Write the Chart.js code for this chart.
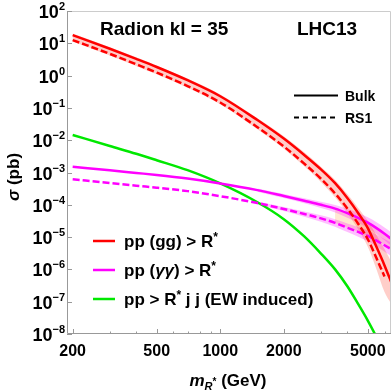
<!DOCTYPE html>
<html>
<head>
<meta charset="utf-8">
<script src="https://cdn.jsdelivr.net/npm/chart.js@4.4.1/dist/chart.umd.min.js"></script>
<style>
    body { margin: 0; background: #fff; }
</style>
</head>
<body>
<canvas id="radion" width="392" height="392"></canvas>
<script>
// resonance mass (GeV) and cross sections (pb)
var MASS = [200, 300, 400, 500, 700, 1000, 1500, 2000, 2500, 3000, 3500, 4000, 4500, 5000, 5500, 6000, 6500];

var GG_BULK = [18, 6.8, 3.3, 1.85, 0.72, 0.23, 0.042, 0.0112, 0.00348, 0.00125, 4.67e-4, 1.63e-4, 5.6e-5, 1.9e-5, 4.9e-6, 1.33e-6, 3.6e-7];
var GG_RS1 = [12.6, 4.7, 2.24, 1.24, 0.475, 0.147, 0.0252, 0.0064, 0.00188, 6.4e-4, 2.24e-4, 7.7e-5, 2.6e-5, 8.6e-6, 2.2e-6, 6.0e-7];
var GG_BAND_HI = [20, 7.6, 3.7, 2.07, 0.81, 0.26, 0.048, 0.0132, 0.0042, 0.00152, 5.9e-4, 2.15e-4, 8.0e-5, 3.2e-5, 1.15e-5, 4.3e-6, 1.6e-6];
var GG_BAND_LO = [11.3, 4.2, 2.0, 1.1, 0.42, 0.129, 0.0217, 0.0054, 0.00155, 5.1e-4, 1.7e-4, 5.5e-5, 1.75e-5, 5.0e-6, 1.0e-6, 2.0e-7, 8e-8];

var AA_BULK = [1.5e-3, 1.17e-3, 9.7e-4, 8.4e-4, 6.5e-4, 4.6e-4, 2.85e-4, 1.87e-4, 1.33e-4, 1.0e-4, 7.6e-5, 5.5e-5, 3.95e-5, 2.8e-5, 1.9e-5, 1.27e-5, 8.4e-6];
var AA_RS1 = [6.2e-4, 4.75e-4, 3.9e-4, 3.4e-4, 2.65e-4, 1.85e-4, 1.13e-4, 7.4e-5, 5.2e-5, 3.8e-5, 2.75e-5, 1.95e-5, 1.45e-5, 1.1e-5, 7.8e-6, 5.6e-6, 4.1e-6];

var AA_BAND_MASS = [1500, 2000, 2500, 3000, 3500, 4000, 4500, 5000, 5500, 6000, 6500];
var AA_BULK_HI = [3.2e-4, 2.17e-4, 1.6e-4, 1.25e-4, 9.9e-5, 7.5e-5, 5.6e-5, 4.1e-5, 2.9e-5, 2.0e-5, 1.36e-5];
var AA_BULK_LO = [2.54e-4, 1.61e-4, 1.11e-4, 8.0e-5, 5.8e-5, 4.0e-5, 2.8e-5, 1.9e-5, 1.24e-5, 8.0e-6, 5.2e-6];
var AA_RS1_HI = [1.27e-4, 8.6e-5, 6.2e-5, 4.75e-5, 3.6e-5, 2.65e-5, 2.06e-5, 1.63e-5, 1.19e-5, 8.8e-6, 6.6e-6];
var AA_RS1_LO = [1.0e-4, 6.4e-5, 4.3e-5, 3.0e-5, 2.1e-5, 1.43e-5, 1.02e-5, 7.4e-6, 5.1e-6, 3.5e-6, 2.5e-6];

var EW_MASS = [200, 300, 400, 500, 700, 1000, 1500, 2000, 2500, 3000, 3500, 4000, 4500, 5000, 5500, 5700];
var EW = [0.0145, 6.6e-3, 3.8e-3, 2.4e-3, 1.18e-3, 4.6e-4, 1.2e-4, 3.6e-5, 1.05e-5, 3.1e-6, 1.0e-6, 3.0e-7, 8.5e-8, 2.6e-8, 8e-9, 5e-9];

var X_MAJOR = [200, 500, 1000, 2000, 5000];
var X_MINOR = [300, 400, 600, 700, 800, 900, 3000, 4000, 6000];
var Y_EXP = [2, 1, 0, -1, -2, -3, -4, -5, -6, -7, -8];

var RED = "#ff0000";
var MAGENTA = "#ff00ff";
var GREEN = "#00e800";
var FONT = '"Liberation Sans", Arial, sans-serif';

function pts(xs, ys) {
    return ys.map(function (v, i) { return { x: xs[i], y: v }; });
}

function line(data, color, dash, order) {
    return {
        data: data, borderColor: color, borderWidth: 2.5, borderDash: dash,
        pointRadius: 0, cubicInterpolationMode: "monotone", fill: false, clip: 0, order: order,
    };
}

function band(data, fill, color, order) {
    return {
        data: data, borderColor: "transparent", borderWidth: 0, backgroundColor: color,
        pointRadius: 0, cubicInterpolationMode: "monotone", fill: fill, clip: 0, order: order,
    };
}

// draw a run of text pieces: [text, font, dy]
function rich(ctx, parts, x, y, align) {
    var w = 0;
    parts.forEach(function (p) { ctx.font = p[1]; w += ctx.measureText(p[0]).width; });
    var cx = align == "right" ? x - w : (align == "center" ? x - w / 2 : x);
    parts.forEach(function (p) {
        ctx.font = p[1];
        ctx.fillText(p[0], cx, y + (p[2] || 0));
        cx += ctx.measureText(p[0]).width;
    });
}

var decor = {
    id: "decor",
    afterDraw: function (chart) {
        var ctx = chart.ctx, a = chart.chartArea;
        var sx = chart.scales.x, sy = chart.scales.y;
        var B16 = "bold 16px " + FONT, B17 = "bold 17px " + FONT;
        ctx.save();
        ctx.lineWidth = 1;
        ctx.strokeStyle = "#cccccc";
        ctx.beginPath();
        ctx.moveTo(a.left, a.top + 0.5);
        ctx.lineTo(a.right - 0.5, a.top + 0.5);
        ctx.lineTo(a.right - 0.5, a.bottom);
        ctx.stroke();
        ctx.strokeStyle = "#999999";
        ctx.beginPath();
        ctx.moveTo(a.left + 0.5, a.top);
        ctx.lineTo(a.left + 0.5, a.bottom - 0.5);
        ctx.lineTo(a.right, a.bottom - 0.5);
        ctx.stroke();

        // ticks, pointing inward
        ctx.beginPath();
        X_MAJOR.forEach(function (m) {
            var px = Math.round(sx.getPixelForValue(m)) + 0.5;
            ctx.moveTo(px, a.bottom); ctx.lineTo(px, a.bottom - 5);
        });
        X_MINOR.forEach(function (m) {
            var px = Math.round(sx.getPixelForValue(m)) + 0.5;
            ctx.moveTo(px, a.bottom); ctx.lineTo(px, a.bottom - 2.5);
        });
        Y_EXP.forEach(function (e) {
            var py = Math.round(sy.getPixelForValue(Math.pow(10, e))) + 0.5;
            ctx.moveTo(a.left, py); ctx.lineTo(a.left + 5, py);
        });
        ctx.stroke();

        ctx.fillStyle = "#000";
        ctx.textBaseline = "alphabetic";
        X_MAJOR.forEach(function (m) {
            rich(ctx, [[String(m), B16]], sx.getPixelForValue(m), 356, "center");
        });
        Y_EXP.forEach(function (e) {
            var py = sy.getPixelForValue(Math.pow(10, e));
            var ex = e < 0 ? "\u2212" + (-e) : String(e);
            rich(ctx, [["10", "bold 18px " + FONT, 0], [ex, "bold 11px " + FONT, -8]], 65, py + 7, "right");
        });

        // axis titles
        rich(ctx, [["m", "italic bold 17px " + FONT], ["R", "italic bold 11px " + FONT, 4], ["*", "bold 10px " + FONT, -1], [" (GeV)", B17]], 228, 386, "center");
        ctx.save();
        ctx.translate(19, 177);
        ctx.rotate(-Math.PI / 2);
        rich(ctx, [["\u03c3", "italic bold 17px " + FONT], [" (pb)", B17]], 0, 0, "center");
        ctx.restore();

        // headings
        rich(ctx, [["Radion kl = 35", "bold 19px " + FONT]], 100, 35, "left");
        rich(ctx, [["LHC13", "bold 19px " + FONT]], 297, 35, "left");

        // style key
        ctx.strokeStyle = "#000";
        ctx.lineWidth = 2;
        ctx.beginPath(); ctx.moveTo(294, 95.5); ctx.lineTo(338, 95.5); ctx.stroke();
        ctx.setLineDash([5, 4]);
        ctx.beginPath(); ctx.moveTo(294, 117.5); ctx.lineTo(338, 117.5); ctx.stroke();
        ctx.setLineDash([]);
        rich(ctx, [["Bulk", "bold 14px " + FONT]], 345, 100.5, "left");
        rich(ctx, [["RS1", "bold 14px " + FONT]], 345, 122.5, "left");

        // process key
        var rows = [
            [RED, 241, [["pp (gg) > R", B17], ["*", "bold 12px " + FONT, -6]]],
            [MAGENTA, 270, [["pp (", B17], ["\u03b3\u03b3", "italic bold 17px " + FONT], [") > R", B17], ["*", "bold 12px " + FONT, -6]]],
            [GREEN, 299, [["pp > R", B17], ["*", "bold 12px " + FONT, -6], [" j j (EW induced)", B17]]],
        ];
        ctx.lineWidth = 2.5;
        rows.forEach(function (r) {
            ctx.strokeStyle = r[0];
            ctx.beginPath(); ctx.moveTo(93, r[1]); ctx.lineTo(115, r[1]); ctx.stroke();
            rich(ctx, r[2], 124, r[1] + 6, "left");
        });
        ctx.restore();
    },
};

var datasets = [
    line(pts(MASS, GG_BULK), RED, [], 0),
    line(pts(MASS, GG_RS1), RED, [7, 3], 0),
    line(pts(MASS, AA_BULK), MAGENTA, [], 1),
    line(pts(MASS, AA_RS1), MAGENTA, [7, 3], 1),
    line(pts(EW_MASS, EW), GREEN, [], 2),
    band(pts(MASS, GG_BAND_HI), "+1", "rgba(255, 60, 40, 0.25)", 3),
    band(pts(MASS, GG_BAND_LO), false, "transparent", 3),
    band(pts(AA_BAND_MASS, AA_BULK_HI), "+1", "rgba(255, 0, 255, 0.25)", 4),
    band(pts(AA_BAND_MASS, AA_BULK_LO), false, "transparent", 4),
    band(pts(AA_BAND_MASS, AA_RS1_HI), "+1", "rgba(255, 0, 255, 0.25)", 4),
    band(pts(AA_BAND_MASS, AA_RS1_LO), false, "transparent", 4),
    band(pts(MASS.slice(10), AA_BULK.slice(10)), "+1", "rgba(255, 190, 130, 0.35)", 5),
    band(pts(MASS.slice(10), AA_RS1.slice(10)), false, "transparent", 5),
];

new Chart(document.getElementById("radion"), {
    type: "line",
    data: { datasets: datasets },
    options: {
        animation: false,
        responsive: false,
        devicePixelRatio: 1,
        layout: { padding: { left: 67, top: 11, right: 1, bottom: 58 } },
        plugins: { legend: { display: false }, tooltip: { enabled: false } },
        scales: {
            x: { type: "logarithmic", display: false, min: 188, max: 6440 },
            y: { type: "logarithmic", display: false, min: 1e-8, max: 100 },
        },
    },
    plugins: [decor],
});
</script>
</body>
</html>
